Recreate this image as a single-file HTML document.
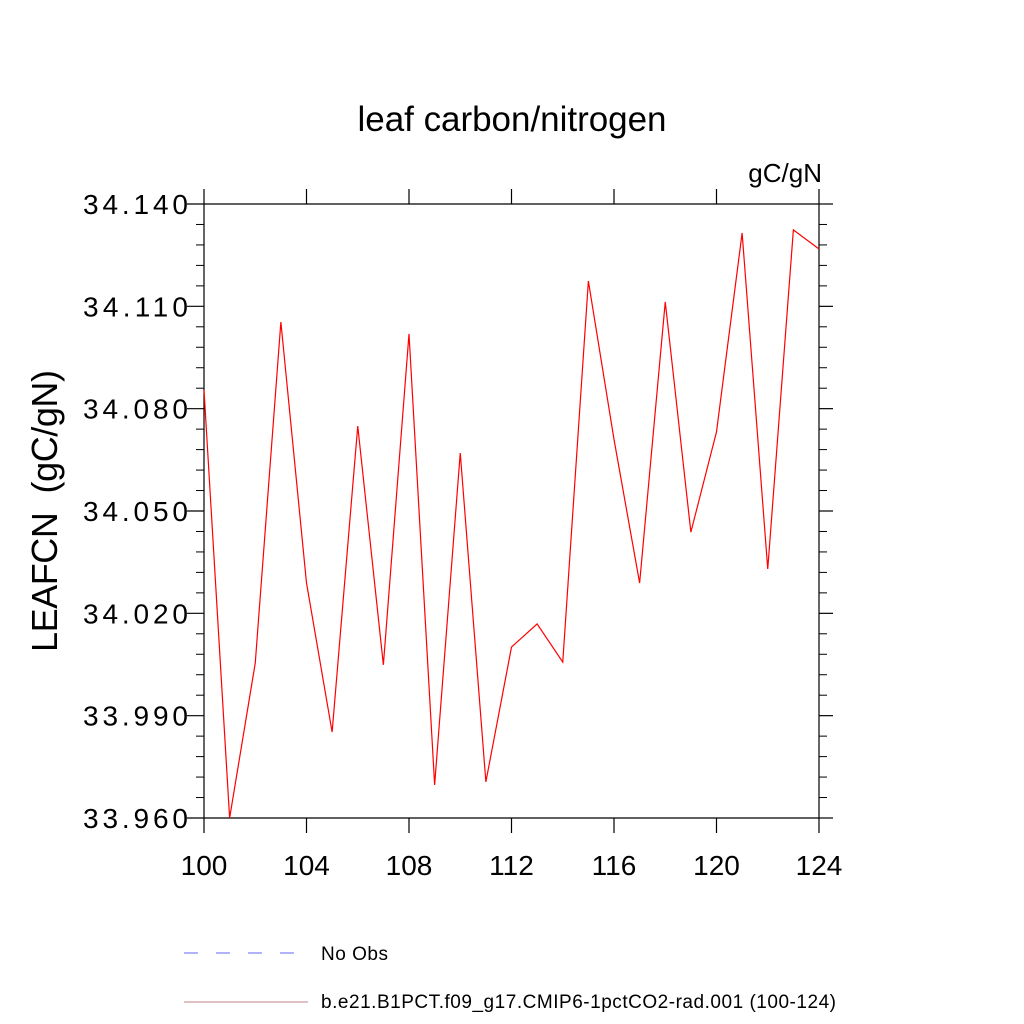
<!DOCTYPE html>
<html><head><meta charset="utf-8"><style>
body{margin:0;background:#fff;}
svg{display:block;font-family:"Liberation Sans",sans-serif;}
</style></head><body>
<svg id="chart" width="1024" height="1024" viewBox="0 0 1024 1024">
<text x="512" y="131" font-size="35" text-anchor="middle" textLength="309">leaf carbon/nitrogen</text>
<text x="822" y="182" font-size="26" text-anchor="end">gC/gN</text>
<text transform="translate(57,511) rotate(-90)" font-size="36" text-anchor="middle" textLength="282">LEAFCN&#160;&#160;(gC/gN)</text>
<g id="axes"></g>
<polyline id="series" fill="none" stroke="#ff0000" stroke-width="1.2"/>
<g>
<line x1="184" y1="953" x2="308" y2="953" stroke="#6666ff" stroke-width="1" stroke-dasharray="14,18"/>
<text x="321" y="960" font-size="19" textLength="67">No Obs</text>
<line x1="184" y1="1002" x2="308" y2="1002" stroke="#c08080" stroke-width="1"/>
<text x="321" y="1008" font-size="19" textLength="515">b.e21.B1PCT.f09_g17.CMIP6-1pctCO2-rad.001 (100-124)</text>
</g>
</svg>
<script>
const years=[100,101,102,103,104,105,106,107,108,109,110,111,112,113,114,115,116,117,118,119,120,121,122,123,124];
const leafcn=[34.0855,33.9600,34.0054,34.1054,34.0289,33.9852,34.0749,34.0049,34.1019,33.9697,34.0670,33.9706,34.0101,34.0169,34.0057,34.1174,34.0710,34.0289,34.1113,34.0438,34.0732,34.1315,34.0330,34.1324,34.1268];
const xTicks=[100,104,108,112,116,120,124];
const yTicks=[33.96,33.99,34.02,34.05,34.08,34.11,34.14];
const yTickLabels=["33.960","33.990","34.020","34.050","34.080","34.110","34.140"];
const X0=204,X1=819,Y0=818,Y1=204;
function sx(v){return X0+(v-100)/(124-100)*(X1-X0);}
function sy(v){return Y0-(v-33.96)/(34.14-33.96)*(Y0-Y1);}
const NS="http://www.w3.org/2000/svg";
const ax=document.getElementById('axes');
function ln(x1,y1,x2,y2,name,w){const l=document.createElementNS(NS,'line');l.setAttribute('x1',x1);l.setAttribute('y1',y1);l.setAttribute('x2',x2);l.setAttribute('y2',y2);l.setAttribute('stroke','#000');l.setAttribute('stroke-width',w||1.2);


ax.appendChild(l);}
function tx(x,y,s,anchor,name,len){const t=document.createElementNS(NS,'text');t.setAttribute('x',x);t.setAttribute('y',y);t.setAttribute('font-size','28');t.setAttribute('text-anchor',anchor);if(len)t.setAttribute('textLength',len);t.textContent=s;


ax.appendChild(t);}
ln(X0,Y1,X1,Y1,'plot-frame-top');ln(X0,Y0,X1,Y0,'plot-frame-bottom');ln(X0,Y1,X0,Y0,'plot-frame-left');ln(X1,Y1,X1,Y0,'plot-frame-right');
xTicks.forEach(v=>{const x=sx(v);ln(x,Y0,x,Y0+15,'x-tick');ln(x,Y1,x,Y1-15,'x-tick-top');tx(x,Y0+57,String(v),'middle','x-tick-label');});
yTicks.forEach((v,i)=>{const y=sy(v);ln(X0-17,y,X0,y,'y-tick');ln(X1,y,X1+14,y,'y-tick-right');tx(188,y+10,yTickLabels[i],'end','y-tick-label',105);});
for(let v=33.966;v<34.14;v+=0.006){const y=sy(v);if(Math.abs((v-33.96)/0.03-Math.round((v-33.96)/0.03))<0.01)continue;ln(X0-8,y,X0,y,'y-minor-tick',1);ln(X1,y,X1+8,y,'y-minor-tick-right',1);}
document.getElementById('series').setAttribute('points',years.map((y,i)=>sx(y)+','+sy(leafcn[i])).join(' '));
</script>
</body></html>
